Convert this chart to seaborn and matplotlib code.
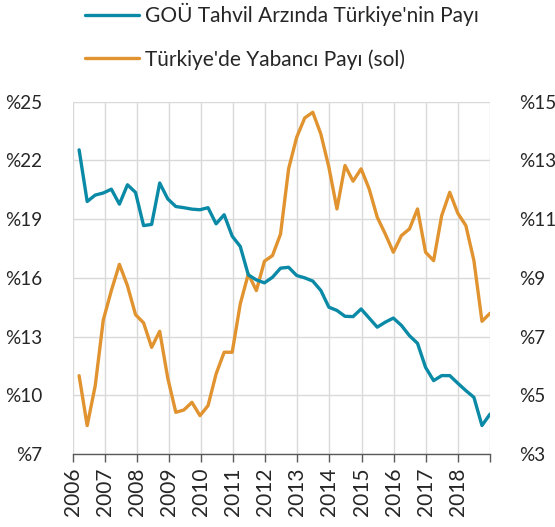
import numpy as np
import pandas as pd
import matplotlib
matplotlib.use("Agg")
import matplotlib.pyplot as plt
from matplotlib.lines import Line2D
import seaborn as sns

# Quarterly observations, 2006 Q1 .. 2018 Q4
quarter_index = list(range(52))

# Türkiye'de Yabancı Payı (sol) - left axis, %
foreign_share = [11.0, 8.45, 10.49, 13.85, 15.35, 16.69, 15.60, 14.12, 13.70, 12.45,
                 13.27, 10.88, 9.13, 9.25, 9.64, 8.96, 9.47, 11.09, 12.20, 12.20,
                 14.67, 16.20, 15.35, 16.85, 17.14, 18.24, 21.57, 23.18, 24.17, 24.46,
                 23.35, 21.65, 19.52, 21.74, 20.94, 21.57, 20.54, 19.10, 18.24, 17.31,
                 18.16, 18.50, 19.52, 17.31, 16.88, 19.18, 20.37, 19.30, 18.67, 16.88,
                 13.78, 14.19]

# GOÜ Tahvil Arzında Türkiye'nin Payı - right axis, %
gem_share = [13.36, 11.60, 11.82, 11.89, 12.02, 11.51, 12.17, 11.91, 10.78, 10.82,
             12.23, 11.69, 11.43, 11.39, 11.34, 11.32, 11.39, 10.84, 11.15, 10.42,
             10.07, 9.10, 8.93, 8.83, 9.02, 9.33, 9.36, 9.08, 9.00, 8.89,
             8.57, 8.00, 7.89, 7.69, 7.68, 7.94, 7.63, 7.32, 7.49, 7.63,
             7.38, 7.03, 6.77, 5.95, 5.50, 5.67, 5.67, 5.41, 5.16, 4.93,
             3.97, 4.36]

years = list(range(2006, 2020))
year_labels = [str(y) for y in range(2006, 2019)] + [""]
left_ticks = [7, 10, 13, 16, 19, 22, 25]
right_ticks = [3, 5, 7, 9, 11, 13, 15]

label_gem = "GOÜ Tahvil Arzında Türkiye'nin Payı"
label_foreign = "Türkiye'de Yabancı Payı (sol)"

BLUE = "#0A8AA6"
ORANGE = "#E0932F"
FS = 15
TFS = 13.6

sns.set_theme(style="white")
plt.rcParams["font.family"] = ["Lato", "DejaVu Sans"]

df = pd.DataFrame({
    "t": [2006.2 + 0.251 * q for q in quarter_index],
    "foreign": foreign_share,
    "gem": gem_share,
})

fig = plt.figure(figsize=(5.55, 5.27), dpi=100)
W, H = 555, 527
ax = fig.add_axes([72.7 / W, (H - 454) / H, (490 - 72.7) / W, (454 - 101.7) / H])
ax2 = ax.twinx()

sns.lineplot(data=df, x="t", y="foreign", ax=ax, color=ORANGE, linewidth=2.4, legend=False)
sns.lineplot(data=df, x="t", y="gem", ax=ax2, color=BLUE, linewidth=2.4, legend=False)

ax.set_xlim(2006, 2019)
ax.set_ylim(7, 25)
ax2.set_ylim(3, 15)

ax.set_xticks(years)
ax.set_xticklabels(year_labels, rotation=90)
ax.set_yticks(left_ticks)
ax.set_yticklabels([f"%{v}" for v in left_ticks])
ax2.set_yticks(right_ticks)
ax2.set_yticklabels([f"%{v}" for v in right_ticks])

ax.set_xlabel("")
ax.set_ylabel("")
ax2.set_ylabel("")

ax.grid(True, color="#D9D9D9", linewidth=1.0)
ax.set_axisbelow(True)
ax2.grid(False)

for a in (ax, ax2):
    for s in ("top", "left", "right", "bottom"):
        a.spines[s].set_visible(False)
ax.spines["bottom"].set_visible(True)
ax.spines["bottom"].set_color("#595959")
ax.spines["bottom"].set_linewidth(1.0)

ax.tick_params(axis="x", which="both", bottom=True, length=6, width=1, color="#595959",
               labelsize=FS, labelcolor="#262626", pad=4)
ax.tick_params(axis="y", left=False, labelsize=TFS, labelcolor="#262626", pad=16)
ax2.tick_params(axis="y", right=False, labelsize=TFS, labelcolor="#262626", pad=15)

handles = [Line2D([0], [0], color=BLUE, linewidth=2.4),
           Line2D([0], [0], color=ORANGE, linewidth=2.4)]
fig.legend(handles, [label_gem, label_foreign], loc="upper left",
           bbox_to_anchor=(85 / W, 1 - 3 / H), frameon=False, fontsize=FS,
           handlelength=2.6, handletextpad=0.3, labelspacing=1.1,
           borderpad=0, borderaxespad=0, labelcolor="#262626")

fig.savefig("out.png", dpi=100)
